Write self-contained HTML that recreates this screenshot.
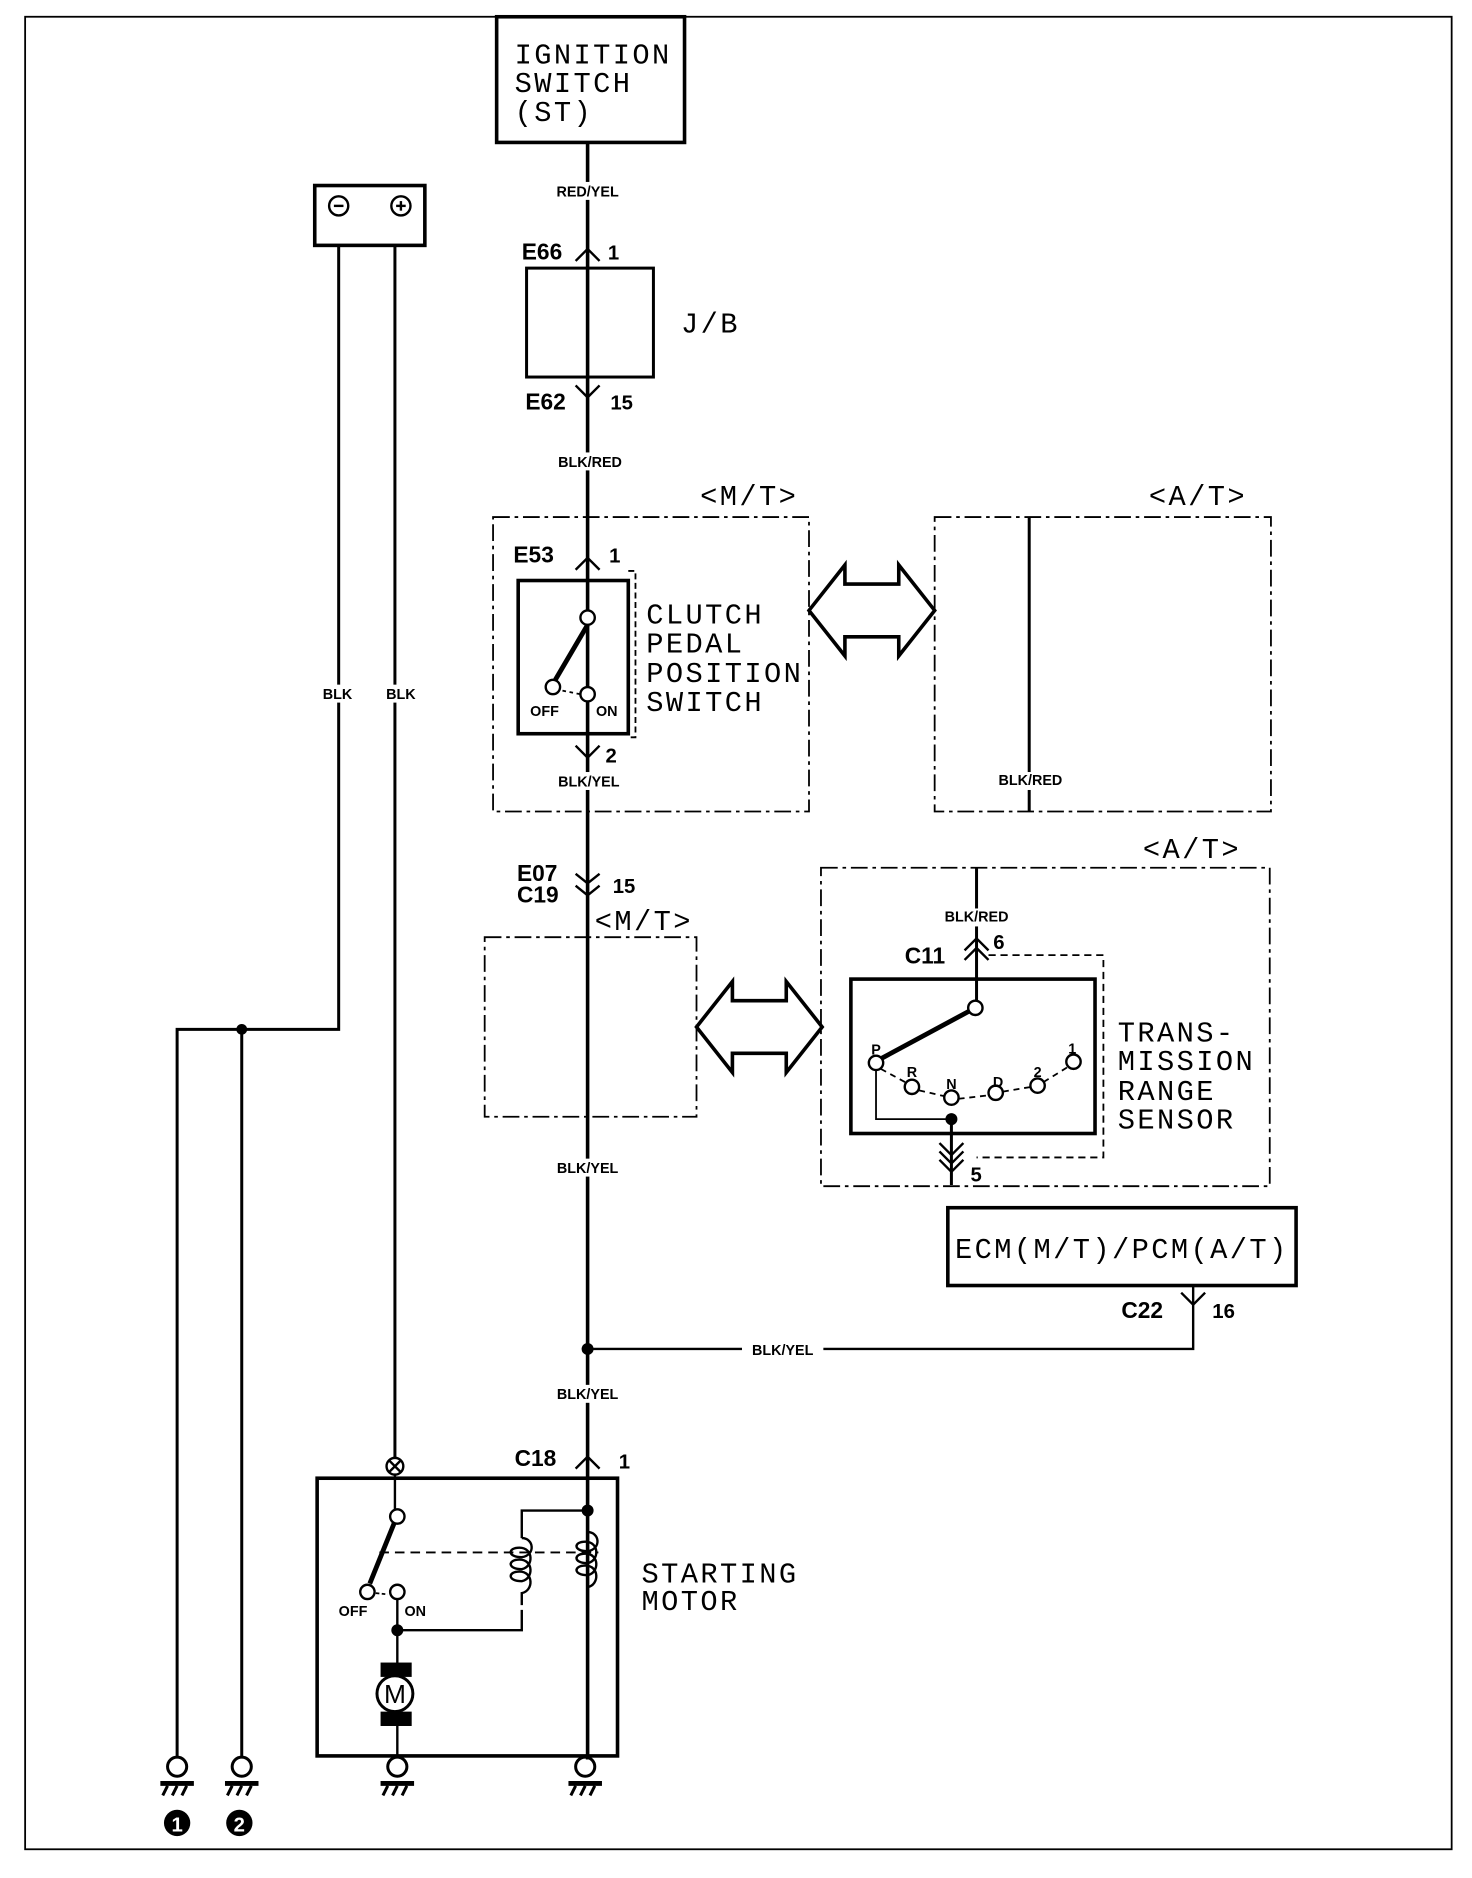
<!DOCTYPE html>
<html><head><meta charset="utf-8"><style>
html,body{margin:0;padding:0;background:#fff;}
svg{display:block;}
text{font-family:"Liberation Sans",sans-serif;fill:#000;}
.big{font-family:"Liberation Mono",monospace;font-size:24px;letter-spacing:2px;}
.lbl{font-size:12px;font-weight:bold;}
.cn{font-size:19px;font-weight:bold;}
</style></head><body>
<svg width="1472" height="1878" viewBox="0 0 1230 1569" preserveAspectRatio="none" xmlns="http://www.w3.org/2000/svg">
<g stroke="#000" fill="none" stroke-width="2">
<rect x="21" y="14" width="1192" height="1531" stroke-width="1.5"/>
<rect x="415" y="14" width="157" height="105" stroke-width="3"/>
<line x1="491" y1="119" x2="491" y2="1470" stroke-width="3"/>
<polyline points="481,218 491,208 501,218"/>
<rect x="440" y="224" width="106" height="91" stroke-width="2.5"/>
<polyline points="481,322 491,332 501,322"/>
<rect x="412" y="432" width="264" height="246" stroke-dasharray="14,4,3,4" stroke-width="1.5"/>
<polyline points="481,476 491,466 501,476"/>
<rect x="433" y="485" width="92" height="128" stroke-width="3"/>
<polyline points="525,477 531,477 531,616 525,616" stroke-dasharray="5,3" stroke-width="1.5"/>
<line x1="491" y1="522" x2="464" y2="568" stroke-width="4"/>
<line x1="470" y1="577" x2="485" y2="580" stroke-dasharray="3,3" stroke-width="1.5"/>
<polyline points="481,623 491,633 501,623"/>
<rect x="781" y="432" width="281" height="246" stroke-dasharray="14,4,3,4" stroke-width="1.5"/>
<line x1="860" y1="432" x2="860" y2="678" stroke-width="2.5"/>
<path d="M676,510 L706,472 L706,488 L751,488 L751,472 L781,510 L751,548 L751,532 L706,532 L706,548 Z" stroke-width="3"/>
<path d="M582,858 L612,820 L612,836 L657,836 L657,820 L687,858 L657,896 L657,880 L612,880 L612,896 Z" stroke-width="3"/>
<polyline points="481,730 491,738 501,730"/>
<polyline points="481,740 491,748 501,740"/>
<rect x="405" y="783" width="177" height="150" stroke-dasharray="14,4,3,4" stroke-width="1.5"/>
<rect x="686" y="725" width="375" height="266" stroke-dasharray="14,4,3,4" stroke-width="1.5"/>
<line x1="816" y1="725" x2="816" y2="836" stroke-width="2.5"/>
<polyline points="806,794 816,784 826,794"/>
<polyline points="806,802 816,792 826,802"/>
<polyline points="826,798 922,798 922,967 816,967" stroke-dasharray="6,4" stroke-width="1.5"/>
<rect x="711" y="818" width="204" height="129" stroke-width="3"/>
<line x1="815" y1="842" x2="737" y2="884" stroke-width="4"/>
<path d="M736,893 L758,905 M768,911 L790,916 M801,918 L827,915 M838,912 L862,908 M872,904 L893,891" stroke-dasharray="5,4" stroke-width="1.5"/>
<polyline points="732,893 732,935 795,935" stroke-width="1.5"/>
<line x1="795" y1="935" x2="795" y2="990" stroke-width="2.5"/>
<polyline points="785,955 795,965 805,955"/>
<polyline points="785,962 795,972 805,962"/>
<polyline points="785,969 795,979 805,969"/>
<rect x="792" y="1009" width="291" height="65" stroke-width="3"/>
<polyline points="997,1074 997,1127 491,1127" stroke-width="2"/>
<polyline points="987,1080 997,1090 1007,1080"/>
<polyline points="481,1227 491,1217 501,1227"/>
<rect x="263" y="155" width="92" height="50" stroke-width="3"/>
<circle cx="283" cy="172" r="8"/><line x1="279" y1="172" x2="287" y2="172"/>
<circle cx="335" cy="172" r="8"/><line x1="331" y1="172" x2="339" y2="172"/><line x1="335" y1="168" x2="335" y2="176"/>
<polyline points="283,205 283,860 148,860 148,1468" stroke-width="2.5"/>
<line x1="202" y1="860" x2="202" y2="1468" stroke-width="2.5"/>
<line x1="330" y1="205" x2="330" y2="1218" stroke-width="2.5"/>
<circle cx="330" cy="1225" r="7"/><line x1="325" y1="1220" x2="335" y2="1230"/><line x1="335" y1="1220" x2="325" y2="1230"/>
<rect x="265" y="1235" width="251" height="232" stroke-width="3"/>
<line x1="330" y1="1232" x2="330" y2="1262" stroke-width="2"/>
<line x1="330" y1="1271" x2="309" y2="1323" stroke-width="4"/>
<line x1="314" y1="1331" x2="324" y2="1332" stroke-dasharray="3,2" stroke-width="1.5"/>
<line x1="317" y1="1297" x2="500" y2="1297" stroke-dasharray="8,5" stroke-width="1.5"/>
<line x1="332" y1="1336" x2="332" y2="1400" stroke-width="2"/>
<line x1="332" y1="1430" x2="332" y2="1467" stroke-width="2"/>
<polyline points="332,1362 436,1362 436,1345" stroke-width="2"/>
<polyline points="436,1285 436,1262 491,1262" stroke-width="2"/>
<path d="M436,1285 c10,0 12,14 0,16 c-12,0 -12,-8 -2,-8 c12,0 12,16 2,18 c-12,0 -12,-8 -2,-8 c12,0 12,16 2,18 c-12,0 -12,-8 -2,-8 c12,0 12,16 2,18 l0,10" stroke-width="2"/>
<path d="M491,1280 c10,0 12,14 0,16 c-12,0 -12,-8 -2,-8 c12,0 12,16 2,18 c-12,0 -12,-8 -2,-8 c12,0 12,16 2,18 c-12,0 -12,-8 -2,-8 c12,0 12,16 2,18 l0,10" stroke-width="2"/>
<circle cx="330" cy="1415" r="15" stroke-width="2.5"/>
<g stroke-width="2.5">
<circle cx="148" cy="1476" r="8"/><line x1="134" y1="1490" x2="162" y2="1490" stroke-width="4"/><path d="M140,1492 l-4,8 M148,1492 l-4,8 M156,1492 l-4,8"/>
<circle cx="202" cy="1476" r="8"/><line x1="188" y1="1490" x2="216" y2="1490" stroke-width="4"/><path d="M194,1492 l-4,8 M202,1492 l-4,8 M210,1492 l-4,8"/>
<circle cx="332" cy="1476" r="8"/><line x1="318" y1="1490" x2="346" y2="1490" stroke-width="4"/><path d="M324,1492 l-4,8 M332,1492 l-4,8 M340,1492 l-4,8"/>
<circle cx="489" cy="1476" r="8"/><line x1="475" y1="1490" x2="503" y2="1490" stroke-width="4"/><path d="M481,1492 l-4,8 M489,1492 l-4,8 M497,1492 l-4,8"/>
</g>
</g>
<g stroke="#000" stroke-width="2" fill="#fff">
<circle cx="491" cy="516" r="6"/><circle cx="462" cy="574" r="6"/><circle cx="491" cy="580" r="6"/>
<circle cx="815" cy="842" r="6"/><circle cx="732" cy="888" r="6"/><circle cx="762" cy="908" r="6"/><circle cx="795" cy="917" r="6"/><circle cx="832" cy="913" r="6"/><circle cx="867" cy="907" r="6"/><circle cx="897" cy="887" r="6"/>
<circle cx="332" cy="1267" r="6"/><circle cx="307" cy="1330" r="6"/><circle cx="332" cy="1330" r="6"/>
</g>
<g fill="#000">
<circle cx="202" cy="860" r="4.5"/><circle cx="491" cy="1127" r="5"/><circle cx="795" cy="935" r="5"/>
<circle cx="491" cy="1262" r="5"/><circle cx="332" cy="1362" r="5"/>
<rect x="318" y="1389" width="26" height="12"/><rect x="318" y="1430" width="26" height="12"/>
<circle cx="148" cy="1523" r="11"/><circle cx="200" cy="1523" r="11"/>
</g>
<g fill="#fff">
<rect x="458" y="152" width="66" height="15"/><rect x="460" y="378" width="64" height="15"/>
<rect x="460" y="645" width="64" height="15"/><rect x="460" y="968" width="64" height="15"/>
<rect x="460" y="1157" width="64" height="15"/><rect x="620" y="1120" width="68" height="15"/>
<rect x="830" y="645" width="62" height="15"/><rect x="784" y="759" width="64" height="15"/>
<rect x="266" y="572" width="34" height="15"/><rect x="318" y="572" width="34" height="15"/>
</g>
<text class="big" x="430" y="53">IGNITION</text>
<text class="big" x="430" y="77">SWITCH</text>
<text class="big" x="430" y="101">(ST)</text>
<g class="lbl" text-anchor="middle">
<text x="491" y="164">RED/YEL</text><text x="493" y="390">BLK/RED</text>
<text x="492" y="657">BLK/YEL</text><text x="491" y="980">BLK/YEL</text>
<text x="491" y="1169">BLK/YEL</text><text x="654" y="1132">BLK/YEL</text>
<text x="861" y="656">BLK/RED</text><text x="816" y="770">BLK/RED</text>
<text x="282" y="584">BLK</text><text x="335" y="584">BLK</text>
<text x="455" y="598">OFF</text><text x="507" y="598">ON</text>
<text x="295" y="1350">OFF</text><text x="347" y="1350">ON</text>
<text x="732" y="881">P</text><text x="762" y="900">R</text><text x="795" y="910">N</text><text x="834" y="908">D</text><text x="867" y="900">2</text><text x="896" y="880">1</text>
</g>
<g class="cn">
<text x="436" y="217">E66</text><text x="508" y="217" font-size="17">1</text>
<text x="439" y="342">E62</text><text x="510" y="342" font-size="17">15</text>
<text x="429" y="470">E53</text><text x="509" y="470" font-size="17">1</text>
<text x="506" y="637" font-size="17">2</text>
<text x="432" y="736">E07</text><text x="432" y="754">C19</text><text x="512" y="746" font-size="17">15</text>
<text x="756" y="805">C11</text><text x="830" y="793" font-size="17">6</text>
<text x="811" y="987" font-size="17">5</text>
<text x="937" y="1101">C22</text><text x="1013" y="1101" font-size="17">16</text>
<text x="430" y="1225">C18</text><text x="517" y="1227" font-size="17">1</text>
</g>
<text class="big" x="569" y="278">J/B</text>
<text class="big" x="585" y="422" font-size="20">&lt;M/T&gt;</text>
<text class="big" x="960" y="422" font-size="20">&lt;A/T&gt;</text>
<text class="big" x="497" y="777" font-size="20">&lt;M/T&gt;</text>
<text class="big" x="955" y="717" font-size="20">&lt;A/T&gt;</text>
<text class="big" x="540" y="521">CLUTCH</text><text class="big" x="540" y="545">PEDAL</text><text class="big" x="540" y="570">POSITION</text><text class="big" x="540" y="594">SWITCH</text>
<text class="big" x="934" y="870">TRANS-</text><text class="big" x="934" y="894">MISSION</text><text class="big" x="934" y="919">RANGE</text><text class="big" x="934" y="943">SENSOR</text>
<text class="big" x="798" y="1051" font-size="23" letter-spacing="1">ECM(M/T)/PCM(A/T)</text>
<text class="big" x="536" y="1322">STARTING</text><text class="big" x="536" y="1345">MOTOR</text>
<text x="330" y="1423" text-anchor="middle" font-size="22">M</text>
<text x="148" y="1530" text-anchor="middle" font-size="17" font-weight="bold" style="fill:#fff">1</text>
<text x="200" y="1530" text-anchor="middle" font-size="17" font-weight="bold" style="fill:#fff">2</text>
</svg>
</body></html>
